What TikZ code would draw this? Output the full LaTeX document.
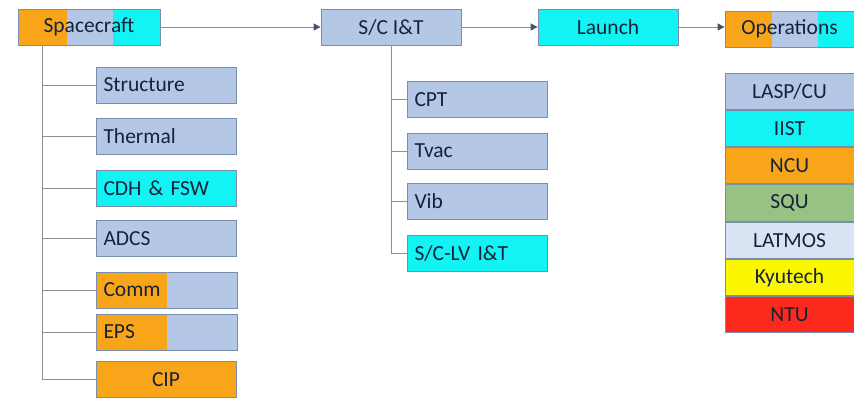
\documentclass[tikz,border=0pt]{standalone}
\usepackage{fontspec}
\setmainfont{Carlito}
\usetikzlibrary{arrows.meta}
\definecolor{blueL}{HTML}{B4C7E7}
\definecolor{cyanC}{HTML}{12F4F4}
\definecolor{orangeC}{HTML}{F9A51A}
\definecolor{greenC}{HTML}{98C184}
\definecolor{paleC}{HTML}{DAE3F3}
\definecolor{yellowC}{HTML}{FAF700}
\definecolor{redC}{HTML}{FB2A1C}
\definecolor{borderC}{HTML}{7A8DAF}
\definecolor{lineC}{HTML}{8C9099}
\definecolor{tipC}{HTML}{44546A}
\definecolor{textC}{HTML}{16223A}
\tikzset{
  box/.style={draw=borderC, line width=0.8pt, minimum height=36pt, inner sep=0pt,
    text=textC, font=\fontsize{21.5}{25}\selectfont},
  leftbox/.style={box, text width=125pt, inner xsep=7.5pt, align=left},
  centbox/.style={box, minimum width=140pt},
  orgbox/.style={box, minimum width=129pt, minimum height=36.43pt},
  conn/.style={draw=lineC, line width=1pt},
  arr/.style={conn, -{Triangle[length=7pt,width=7pt,fill=tipC,color=tipC]}},
}
\begin{document}
\begin{tikzpicture}[x=1pt,y=-1pt]
\useasboundingbox (0,0) rectangle (854,400);
% Spacecraft (three coloured parts)
\fill[orangeC] (18,9) rectangle (67,45);
\fill[blueL] (67,9) rectangle (113,45);
\fill[cyanC] (113,9) rectangle (160,45);
\node[box, minimum width=142pt] (sc) at (89,27) {Spacecraft};
% S/C I&T
\node[centbox, fill=blueL] (it) at (391,27) {S/C I\&T};
% Launch
\node[centbox, fill=cyanC] (launch) at (608,27) {Launch};
% Operations
\fill[orangeC] (725,11.5) rectangle (772,47);
\fill[blueL] (772,11.5) rectangle (818,47);
\fill[cyanC] (818,11.5) rectangle (854,47);
\node[box, minimum width=129pt, minimum height=35.5pt] (ops) at (789.5,29.25) {Operations};
% top row arrows
\draw[arr] (sc.east) -- (sc.east -| it.west);
\draw[arr] (it.east) -- (launch.west);
\draw[arr] (launch.east) -- (launch.east -| ops.west);
% Spacecraft children
\node[leftbox, fill=blueL] (str) at (166,85) {Structure};
\node[leftbox, fill=blueL] (thm) at (166,136.5) {Thermal};
\node[leftbox, fill=cyanC] (cdh) at (166,188) {CDH \& FSW};
\node[leftbox, fill=blueL] (adcs) at (166,238.5) {ADCS};
\fill[orangeC] (96,272) rectangle (167,308);
\fill[blueL] (167,272) rectangle (237,308);
\node[leftbox, text width=126pt] (comm) at (166.5,290) {Comm};
\fill[orangeC] (96,314) rectangle (167,350);
\fill[blueL] (167,314) rectangle (237,350);
\node[leftbox, text width=126pt] (eps) at (166.5,332) {EPS};
\node[centbox, fill=orangeC] (cip) at (166,379.5) {CIP};
\coordinate (sctop) at (42,45);
\draw[conn] (sctop) |- (cip.west);
\foreach \n in {str,thm,cdh,adcs,comm,eps}
  \draw[conn] (sctop |- \n.west) -- (\n.west);
% S/C I&T children
\node[leftbox, fill=blueL] (cpt) at (477,99.5) {CPT};
\node[leftbox, fill=blueL] (tvac) at (477,151) {Tvac};
\node[leftbox, fill=blueL] (vib) at (477,201.5) {Vib};
\node[leftbox, fill=cyanC] (sclv) at (477,253) {S/C-LV I\&T};
\coordinate (ittop) at (it.south);
\draw[conn] (ittop) |- (sclv.west);
\foreach \n in {cpt,tvac,vib}
  \draw[conn] (ittop |- \n.west) -- (\n.west);
% Organisations legend
\node[orgbox, fill=blueL] (lasp) at (789.5,91.2) {LASP/CU};
\node[orgbox, fill=cyanC, anchor=north] (iist) at (lasp.south) {IIST};
\node[orgbox, fill=orangeC, anchor=north] (ncu) at (iist.south) {NCU};
\node[orgbox, fill=greenC, anchor=north] (squ) at (ncu.south) {SQU};
\node[orgbox, fill=paleC, anchor=north] (latmos) at (squ.south) {LATMOS};
\node[orgbox, fill=yellowC, anchor=north] (kyu) at (latmos.south) {Kyutech};
\node[orgbox, fill=redC, anchor=north] (ntu) at (kyu.south) {NTU};
\end{tikzpicture}
\end{document}
